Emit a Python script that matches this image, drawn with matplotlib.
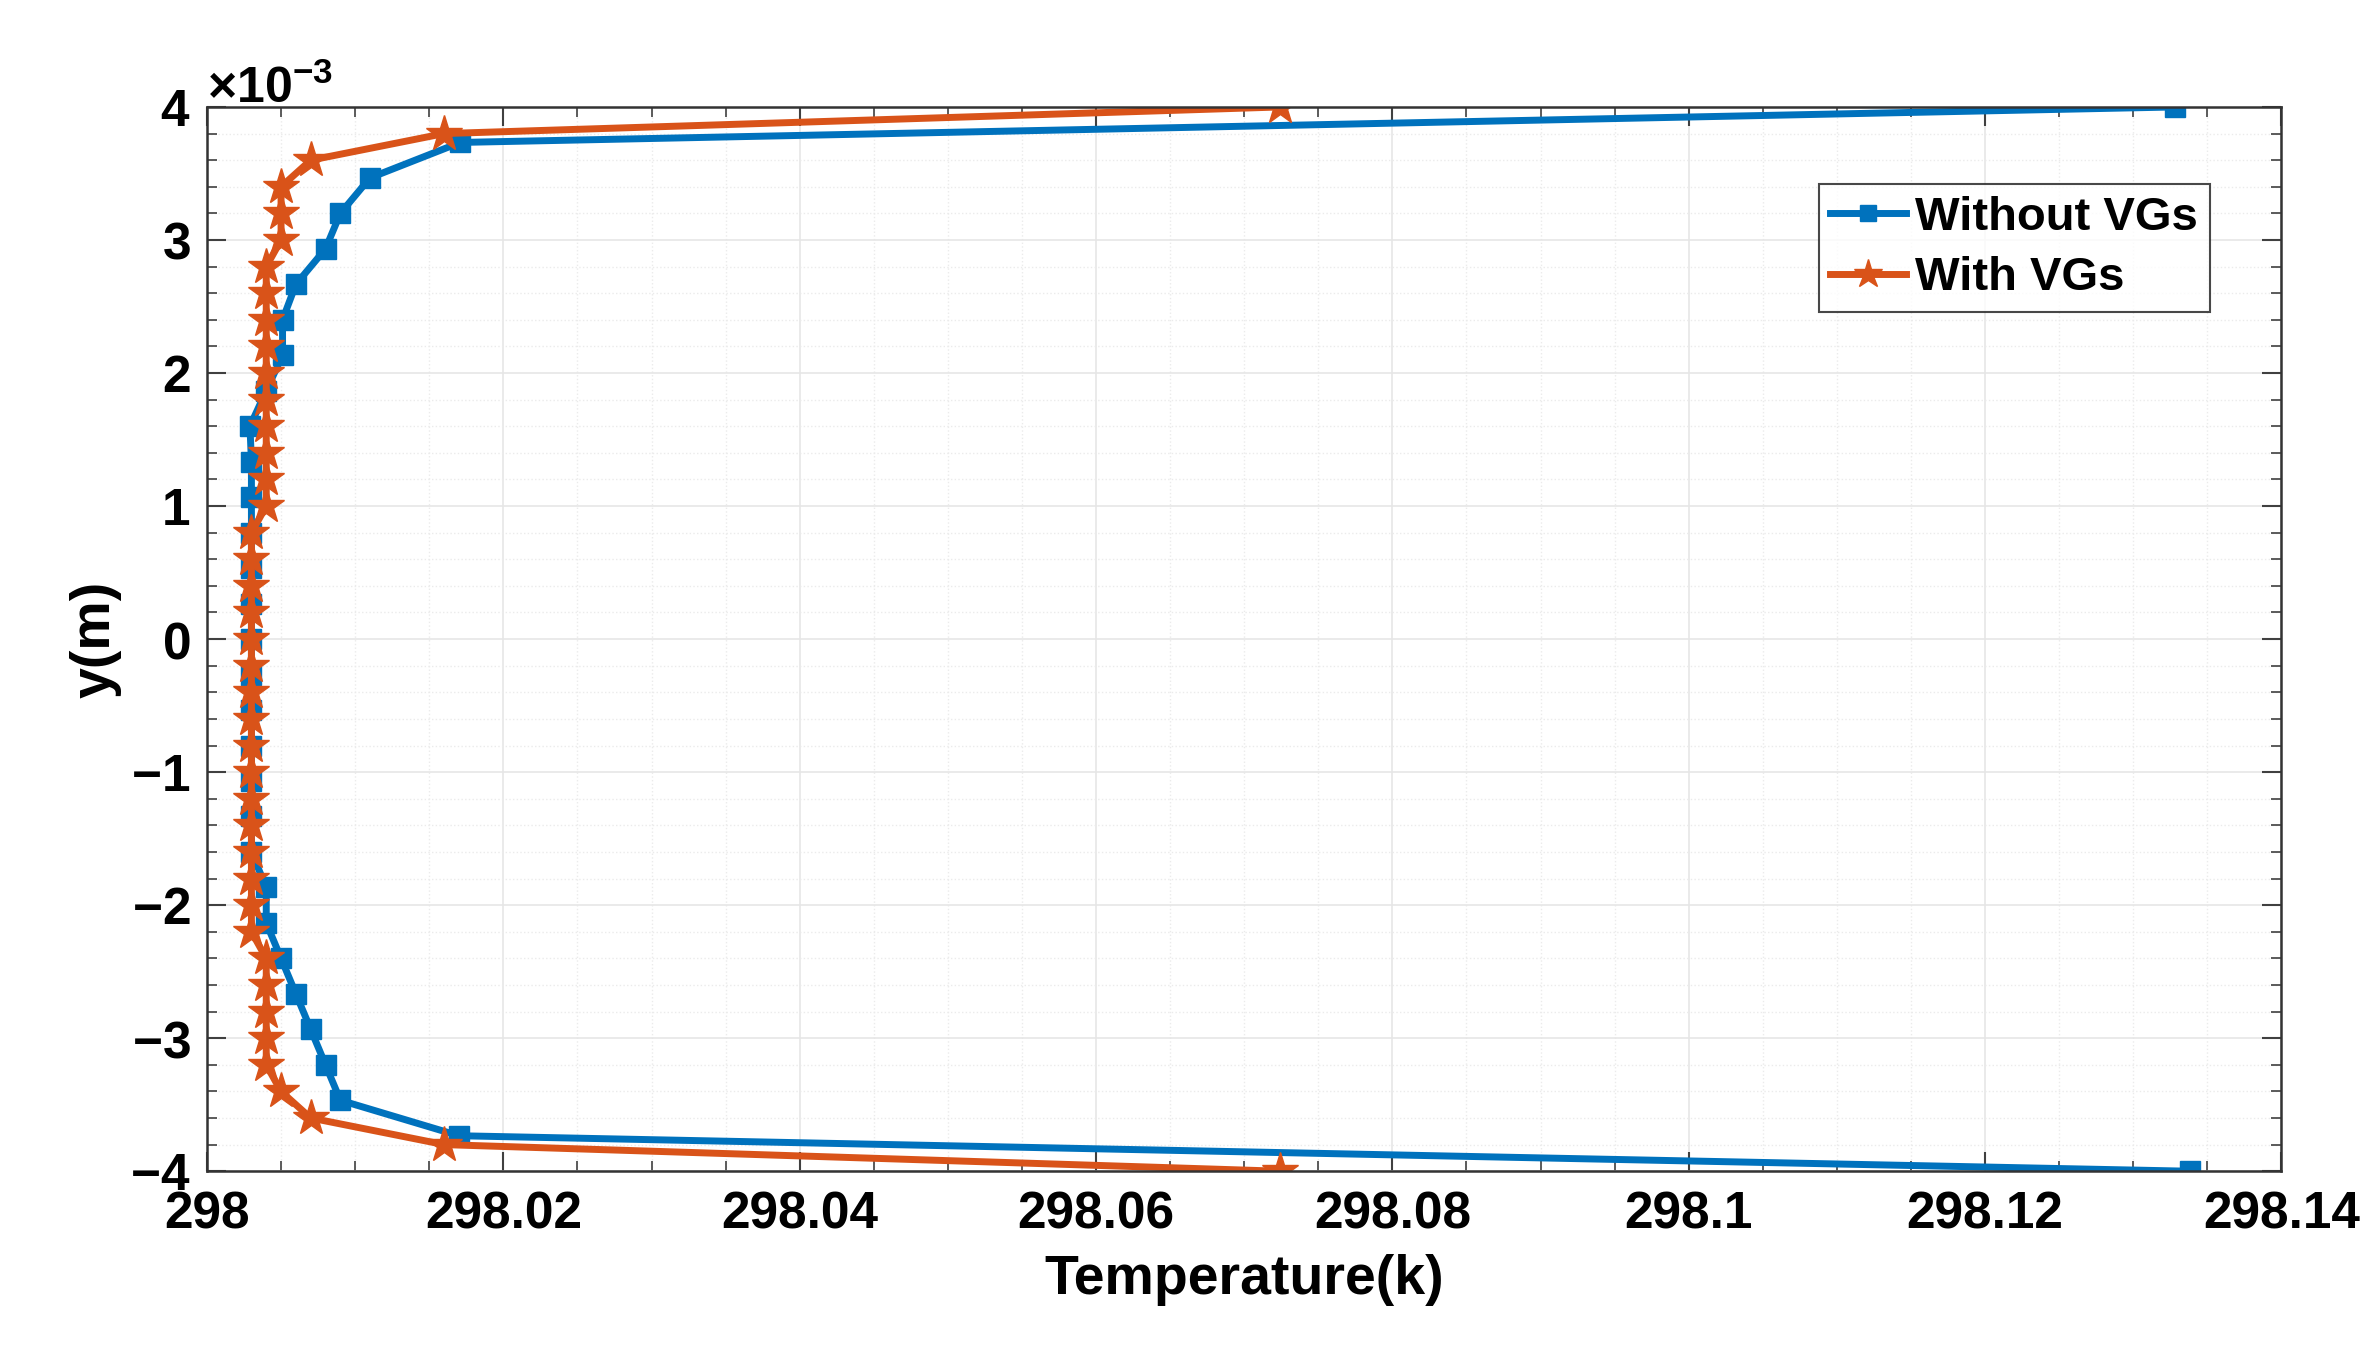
import numpy as np
import matplotlib.pyplot as plt
from matplotlib.ticker import MultipleLocator, ScalarFormatter

plt.rcParams["font.family"] = ["Liberation Sans", "DejaVu Sans"]
plt.rcParams["font.weight"] = "bold"
plt.rcParams["mathtext.fontset"] = "custom"
plt.rcParams["mathtext.rm"] = "Liberation Sans:bold"
plt.rcParams["mathtext.default"] = "rm"

# Without VGs: 31 points, y from 4e-3 down to -4e-3
y_without = np.linspace(4e-3, -4e-3, 31)
t_without = [298.1328, 298.0171, 298.0110, 298.0090, 298.0080, 298.0060,
             298.0051, 298.0051, 298.0040, 298.0029, 298.0030, 298.0030,
             298.0030, 298.0030, 298.0030, 298.0030, 298.0030, 298.0030,
             298.0030, 298.0030, 298.0030, 298.0030, 298.0040, 298.0040,
             298.0050, 298.0060, 298.0070, 298.0080, 298.0090, 298.0110,
             298.0170]
t_without[-1] = 298.1338

# With VGs: 41 points, y from 4e-3 down to -4e-3 (step 0.2e-3)
y_with = np.linspace(4e-3, -4e-3, 41)
t_with = [298.0724, 298.0160, 298.0070, 298.0050, 298.0050, 298.0050,
          298.0040, 298.0040, 298.0040, 298.0040, 298.0040, 298.0040,
          298.0040, 298.0040, 298.0040, 298.0040,
          298.0030, 298.0030, 298.0030, 298.0030, 298.0030, 298.0030,
          298.0030, 298.0030, 298.0030, 298.0030, 298.0030, 298.0030,
          298.0030, 298.0030, 298.0030, 298.0030,
          298.0040, 298.0040, 298.0040, 298.0040, 298.0040,
          298.0050, 298.0070, 298.0160, 298.0724]

# an extra bit so the outermost blue point sits right
t_without = t_without[:-1] + [298.1338]
t_without[-2] = 298.0170
t_without = t_without

blue = "#0072BD"
orange = "#D95319"

fig = plt.figure(figsize=(23.79, 13.54), dpi=100)
ax = fig.add_axes([0.087, 0.135, 0.872, 0.786])

ax.plot(t_without, y_without, color=blue, lw=5, marker="s", ms=15,
        label="Without VGs")
ax.plot(t_with, y_with, color=orange, lw=5, marker="*", ms=27,
        label="With VGs")

ax.set_xlim(298, 298.14)
ax.set_ylim(-4e-3, 4e-3)
ax.set_xticks([298, 298.02, 298.04, 298.06, 298.08, 298.1, 298.12, 298.14])
ax.set_xticklabels(["298", "298.02", "298.04", "298.06", "298.08",
                    "298.1", "298.12", "298.14"])
ax.xaxis.set_minor_locator(MultipleLocator(0.005))
ax.yaxis.set_major_locator(MultipleLocator(1e-3))
ax.yaxis.set_minor_locator(MultipleLocator(0.2e-3))
fmt = ScalarFormatter(useMathText=True)
fmt.set_powerlimits((0, 0))
ax.yaxis.set_major_formatter(fmt)
ax.yaxis.get_offset_text().set_fontsize(36)

ax.grid(True, which="major", color="0.9", lw=1.2)
ax.grid(True, which="minor", color="0.92", lw=1.0, ls=":")
ax.tick_params(which="both", direction="in", top=True, right=True,
               labelsize=37, color="0.25")
ax.tick_params(axis="x", pad=14)
ax.tick_params(axis="y", pad=12)
ax.tick_params(which="major", length=14, width=1.5)
ax.tick_params(which="minor", length=7, width=1.2)
for s in ax.spines.values():
    s.set_linewidth(1.8)
    s.set_color("0.2")

ax.set_xlabel("Temperature(k)", fontsize=40, fontweight="bold", labelpad=10)
ax.set_ylabel("y(m)", fontsize=40, fontweight="bold", labelpad=6)

leg = ax.legend(loc="upper right", bbox_to_anchor=(0.977, 0.95), fontsize=34,
                fancybox=False, edgecolor="0.1", handlelength=1.6,
                borderpad=0.25, labelspacing=0.35, handletextpad=0.2,
                markerscale=0.8)
leg.get_frame().set_linewidth(1.5)

fig.savefig("out.png", dpi=100)
